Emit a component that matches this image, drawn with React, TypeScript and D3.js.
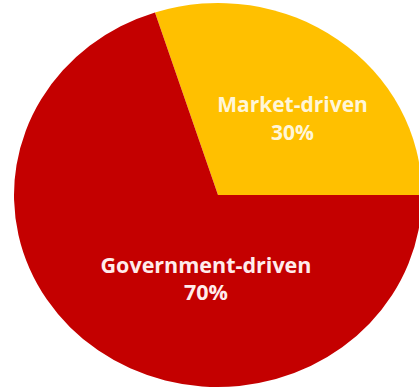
import React from "react";
import * as d3 from "d3";

// Share of drivers
const categories = ["Market-driven", "Government-driven"];
const shares = [30, 70];
const colors = ["#FFC000", "#C40000"];

const W = 419;
const H = 390;
const cx = 218;
const cy = 195;
const R = 204;
const yScale = 192 / 204;

// label placement relative to the pie center: first-line baseline, line gap
const labelPos = [
  { dx: 74.5, dy: -83, size: 21, gap: 28, fill: "#fff6d8" },
  { dx: -12, dy: 78, size: 21.5, gap: 27, fill: "#ffecec" },
];

export default function App() {
  const data = categories.map((c, i) => ({ name: c, value: shares[i] }));
  const pie = d3
    .pie<{ name: string; value: number }>()
    .sort(null)
    .value((d) => d.value)
    .startAngle(-0.1 * Math.PI)
    .endAngle(1.9 * Math.PI);
  const arcs = pie(data);
  const arc = d3
    .arc<d3.PieArcDatum<{ name: string; value: number }>>()
    .innerRadius(0)
    .outerRadius(R);
  const total = d3.sum(shares);

  return (
    <svg
      width={W}
      height={H}
      style={{ position: "absolute", left: 0, top: 0, background: "#fff" }}
    >
      <g transform={`translate(${cx},${cy}) scale(1,${yScale})`}>
        {arcs.map((a, i) => (
          <path key={i} d={arc(a) || ""} fill={colors[i]} />
        ))}
      </g>
      <g transform={`translate(${cx},${cy})`}>
        {arcs.map((a, i) => {
          const p = labelPos[i];
          return (
            <text
              key={i}
              x={p.dx}
              y={p.dy}
              textAnchor="middle"
              fill={p.fill}
              fontFamily="'Open Sans', 'Noto Sans', sans-serif"
              fontWeight="bold"
              fontSize={p.size}
            >
              <tspan x={p.dx} y={p.dy}>
                {a.data.name}
              </tspan>
              <tspan x={p.dx} y={p.dy + p.gap}>
                {`${Math.round((a.data.value / total) * 100)}%`}
              </tspan>
            </text>
          );
        })}
      </g>
    </svg>
  );
}
